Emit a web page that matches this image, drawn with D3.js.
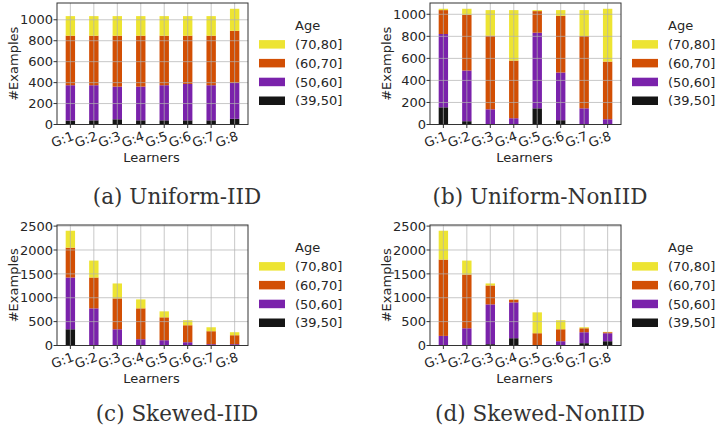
<!DOCTYPE html>
<html>
<head>
<meta charset="utf-8">
<script src="https://cdn.jsdelivr.net/npm/d3@7"></script>
<style>
  body { margin: 0; background: #fff; }
  svg { display: block; }
  text { font-family: "DejaVu Sans", sans-serif; fill: #262626; }
  .caption { font-family: "DejaVu Serif", serif; fill: #333; }
</style>
</head>
<body>
<svg id="chart" width="716" height="433"></svg>
<script>
// learners on the x axis and age groups (bottom to top of each stack)
const learners = ["G:1", "G:2", "G:3", "G:4", "G:5", "G:6", "G:7", "G:8"];
const ageGroups = ["(39,50]", "(50,60]", "(60,70]", "(70,80]"];

// (a) Uniform-IID, examples per age group
const uniformIID_39_50 = [38, 40, 50, 40, 40, 40, 40, 54];
const uniformIID_50_60 = [337, 335, 312, 322, 335, 347, 335, 343];
const uniformIID_60_70 = [473, 473, 486, 486, 473, 461, 473, 498];
const uniformIID_70_80 = [187, 187, 187, 187, 187, 187, 187, 210];

// (b) Uniform-NonIID
const uniformNonIID_39_50 = [156, 30, 0, 0, 147, 39, 0, 0];
const uniformNonIID_50_60 = [665, 460, 138, 57, 686, 433, 147, 48];
const uniformNonIID_60_70 = [217, 505, 668, 523, 196, 514, 656, 523];
const uniformNonIID_70_80 = [12, 55, 232, 458, 9, 52, 235, 479];

// (c) Skewed-IID
const skewedIID_39_50 = [340, 0, 0, 0, 0, 0, 0, 0];
const skewedIID_50_60 = [1084, 778, 340, 132, 111, 69, 28, 28];
const skewedIID_60_70 = [625, 646, 646, 646, 479, 355, 271, 187];
const skewedIID_70_80 = [354, 354, 313, 187, 125, 104, 83, 63];

// (d) Skewed-NonIID
const skewedNonIID_39_50 = [0, 0, 28, 153, 0, 0, 49, 90];
const skewedNonIID_50_60 = [201, 361, 833, 750, 0, 90, 229, 167];
const skewedNonIID_60_70 = [1598, 1125, 396, 55, 257, 250, 83, 21];
const skewedNonIID_70_80 = [604, 292, 42, 7, 437, 188, 21, 7];

const uniformTicks = [0, 200, 400, 600, 800, 1000];
const skewedTicks = [0, 500, 1000, 1500, 2000, 2500];

const colors = ["#151515", "#7a22ab", "#d24f04", "#ede432"];
const fontSize = "13px";

const panels = [
    { caption: "(a) Uniform-IID", series: [uniformIID_39_50, uniformIID_50_60, uniformIID_60_70, uniformIID_70_80],
      ticks: uniformTicks, left: 57, top: 3, right: 248, bottom: 124.5, legendX: 259, capX: 177, capY: 204 },
    { caption: "(b) Uniform-NonIID", series: [uniformNonIID_39_50, uniformNonIID_50_60, uniformNonIID_60_70, uniformNonIID_70_80],
      ticks: uniformTicks, left: 430, top: 3, right: 621, bottom: 124.5, legendX: 632, capX: 540, capY: 204 },
    { caption: "(c) Skewed-IID", series: [skewedIID_39_50, skewedIID_50_60, skewedIID_60_70, skewedIID_70_80],
      ticks: skewedTicks, left: 57, top: 225, right: 248, bottom: 345.5, legendX: 259, capX: 177, capY: 421 },
    { caption: "(d) Skewed-NonIID", series: [skewedNonIID_39_50, skewedNonIID_50_60, skewedNonIID_60_70, skewedNonIID_70_80],
      ticks: skewedTicks, left: 430, top: 225, right: 621, bottom: 345.5, legendX: 632, capX: 540, capY: 421 }
];

const svg = d3.select("#chart");

function drawPanel(p) {
    let rows = learners.map(function (name, i) {
        let row = { name: name };
        ageGroups.forEach(function (a, k) { row[a] = p.series[k][i]; });
        return row;
    });
    let stacked = d3.stack().keys(ageGroups)(rows);
    let maxTotal = d3.max(stacked[stacked.length - 1], function (d) { return d[1]; });

    // matplotlib-like limits: bars of width 0.4 at integer positions, 5% margins
    let lo = -0.2 - 0.05 * 7.4, hi = 7.2 + 0.05 * 7.4;
    let x = d3.scaleLinear().domain([lo, hi]).range([p.left, p.right]);
    let y = d3.scaleLinear().domain([0, maxTotal * 1.05]).range([p.bottom, p.top]);
    let bw = x(0.4) - x(0);

    let g = svg.append("g");

    g.selectAll(".layer")
        .data(stacked)
        .enter().append("g")
        .attr("fill", function (d, k) { return colors[k]; })
        .selectAll("rect")
        .data(function (d) { return d; })
        .enter().append("rect")
        .attr("x", function (d, i) { return x(i) - bw / 2; })
        .attr("y", function (d) { return y(d[1]); })
        .attr("width", bw)
        .attr("height", function (d) { return y(d[0]) - y(d[1]); });

    // grid on top of the bars
    let grid = g.append("g").attr("stroke", "#b0b0b0").attr("stroke-opacity", 0.7).attr("stroke-width", 1);
    grid.selectAll(".gy").data(p.ticks).enter().append("line")
        .attr("x1", p.left).attr("x2", p.right)
        .attr("y1", function (d) { return y(d); }).attr("y2", function (d) { return y(d); });
    grid.selectAll(".gx").data(learners).enter().append("line")
        .attr("y1", p.top).attr("y2", p.bottom)
        .attr("x1", function (d, i) { return x(i); }).attr("x2", function (d, i) { return x(i); });

    g.append("rect")
        .attr("x", p.left).attr("y", p.top)
        .attr("width", p.right - p.left).attr("height", p.bottom - p.top)
        .attr("fill", "none").attr("stroke", "#333").attr("stroke-width", 1);

    // y axis
    let yAxis = g.append("g");
    yAxis.selectAll("line").data(p.ticks).enter().append("line")
        .attr("x1", p.left - 3.5).attr("x2", p.left)
        .attr("y1", function (d) { return y(d); }).attr("y2", function (d) { return y(d); })
        .attr("stroke", "#333");
    yAxis.selectAll("text").data(p.ticks).enter().append("text")
        .attr("x", p.left - 4)
        .attr("y", function (d) { return y(d); })
        .attr("dy", "0.36em")
        .attr("text-anchor", "end")
        .style("font-size", fontSize)
        .text(function (d) { return d; });

    // x axis
    let xAxis = g.append("g");
    xAxis.selectAll("line").data(learners).enter().append("line")
        .attr("x1", function (d, i) { return x(i); }).attr("x2", function (d, i) { return x(i); })
        .attr("y1", p.bottom).attr("y2", p.bottom + 3.5)
        .attr("stroke", "#333");
    xAxis.selectAll("text").data(learners).enter().append("text")
        .attr("transform", function (d, i) { return "translate(" + (x(i) + 1) + "," + (p.bottom + 6) + ") rotate(-20)"; })
        .attr("dy", "0.75em")
        .attr("text-anchor", "end")
        .style("font-size", fontSize)
        .text(function (d) { return d; });

    g.append("text")
        .attr("transform", "translate(" + (p.left - 44) + "," + ((p.top + p.bottom) / 2) + ") rotate(-90)")
        .attr("text-anchor", "middle")
        .attr("dy", "0.36em")
        .style("font-size", fontSize)
        .text("#Examples");
    g.append("text")
        .attr("x", (p.left + p.right) / 2 - 1)
        .attr("y", p.bottom + 37)
        .attr("text-anchor", "middle")
        .style("font-size", fontSize)
        .text("Learners");

    // legend, top entry is the oldest group
    let leg = g.append("g");
    let ly = p.top + 22.5;
    leg.append("text")
        .attr("x", p.legendX + 36).attr("y", ly).attr("dy", "0.36em")
        .style("font-size", fontSize).text("Age");
    let order = ageGroups.slice().reverse();
    order.forEach(function (a, j) {
        let cy = ly + 18.8 * (j + 1);
        leg.append("rect")
            .attr("x", p.legendX).attr("y", cy - 4.2)
            .attr("width", 26).attr("height", 8.5)
            .attr("fill", colors[ageGroups.indexOf(a)]);
        leg.append("text")
            .attr("x", p.legendX + 36).attr("y", cy).attr("dy", "0.36em")
            .style("font-size", fontSize).text(a);
    });

    svg.append("text")
        .attr("class", "caption")
        .attr("x", p.capX).attr("y", p.capY)
        .attr("text-anchor", "middle")
        .style("font-size", "21.5px")
        .text(p.caption);
}

panels.forEach(drawPanel);
</script>
</body>
</html>
